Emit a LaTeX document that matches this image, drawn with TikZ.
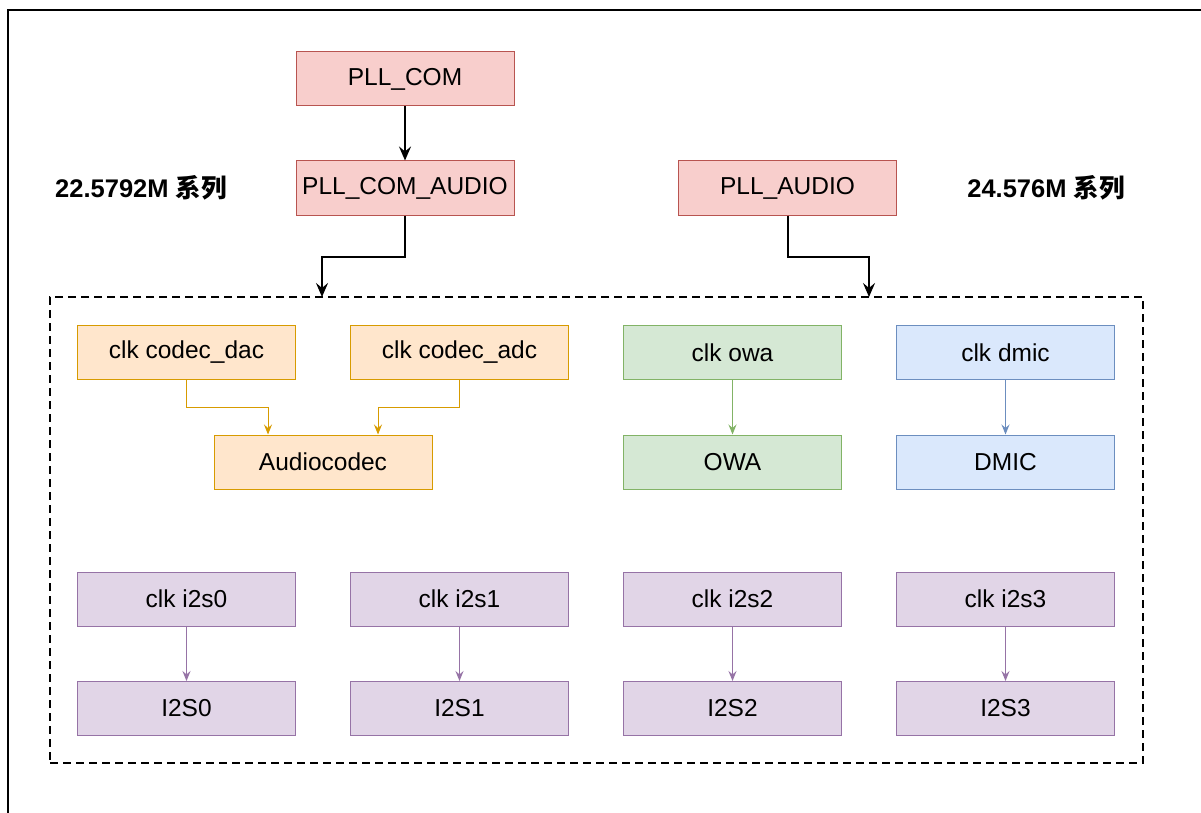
\documentclass[tikz,border=0pt]{standalone}
\usepackage{fontspec}
\setmainfont{Liberation Sans}
\newfontfamily\cjk{Noto Sans CJK SC}
\usetikzlibrary{arrows.meta}
\definecolor{redF}{HTML}{F8CECC}\definecolor{redS}{HTML}{B85450}
\definecolor{orF}{HTML}{FFE6CC}\definecolor{orS}{HTML}{D79B00}
\definecolor{grF}{HTML}{D5E8D4}\definecolor{grS}{HTML}{82B366}
\definecolor{blF}{HTML}{DAE8FC}\definecolor{blS}{HTML}{6C8EBF}
\definecolor{puF}{HTML}{E1D5E7}\definecolor{puS}{HTML}{9673A6}
\tikzset{
  box/.style={draw, line width=1pt, minimum width=218pt, minimum height=54pt, inner sep=0pt,
    font=\fontsize{24.5}{28}\selectfont},
  redbox/.style={box, fill=redF, draw=redS},
  orbox/.style={box, fill=orF, draw=orS},
  grbox/.style={box, fill=grF, draw=grS},
  blbox/.style={box, fill=blF, draw=blS},
  pubox/.style={box, fill=puF, draw=puS},
  bigarrow/.style={line width=2pt, -{Stealth[length=14pt,width=12pt,inset=5pt]}},
  thinarrow/.style={line width=1pt, -{Stealth[length=10pt,width=8pt,inset=3.5pt]}},
  series/.style={font=\fontsize{25.5}{29}\selectfont\bfseries}
}
\begin{document}
\begin{tikzpicture}[x=1pt,y=-1pt]
\useasboundingbox (0,0) rectangle (1201,813);
\fill[white] (0,0) rectangle (1201,813);
% outer frame
\draw[line width=1.5pt] (8,813) -- (8,10) -- (1201,10);
% top nodes
\node[redbox] (pllcom) at (405,79) {PLL\_COM};
\node[redbox] (pllcomaudio) at (405,188) {PLL\_COM\_AUDIO};
\node[redbox] (pllaudio) at (787.5,188) {PLL\_AUDIO};
\node[series] (s1) at (141,188) {22.5792M {\cjk\bfseries 系列}};
\node[series] (s2) at (1046,188) {24.576M {\cjk\bfseries 系列}};
% dashed container
\node[draw, line width=2pt, dash pattern=on 8pt off 5pt, minimum width=1093pt, minimum height=466pt, inner sep=0pt] (group) at (596.5,530) {};
\coordinate (g1) at (322,297);
\coordinate (g2) at (869,297);
\draw[bigarrow] (pllcom) -- (pllcomaudio);
\draw[bigarrow] (pllcomaudio.south) -- ++(0,41) -| (g1);
\draw[bigarrow] (pllaudio.south) -- ++(0,41) -| (g2);
% inner nodes
\node[orbox] (dac) at (186.5,352.5) {clk codec\_dac};
\node[orbox] (adc) at (459.5,352.5) {clk codec\_adc};
\node[orbox] (codec) at (323,462) {Audiocodec};
\node[grbox] (clkowa) at (732.5,352.5) {clk owa};
\node[grbox] (owa) at (732.5,462) {OWA};
\node[blbox] (clkdmic) at (1005.5,352.5) {clk dmic};
\node[blbox] (dmic) at (1005.5,462) {DMIC};
\draw[thinarrow, orS] (dac.south) -- ++(0,27) -| ([xshift=-55pt]codec.north);
\draw[thinarrow, orS] (adc.south) -- ++(0,27) -| ([xshift=55pt]codec.north);
\draw[thinarrow, grS] (clkowa) -- (owa);
\draw[thinarrow, blS] (clkdmic) -- (dmic);
\foreach \i/\x in {0/186.5,1/459.5,2/732.5,3/1005.5}{
  \node[pubox] (clki\i) at (\x,599) {clk i2s\i};
  \node[pubox] (i2s\i) at (\x,708.5) {I2S\i};
  \draw[thinarrow, puS] (clki\i) -- (i2s\i);
}
\end{tikzpicture}
\end{document}
